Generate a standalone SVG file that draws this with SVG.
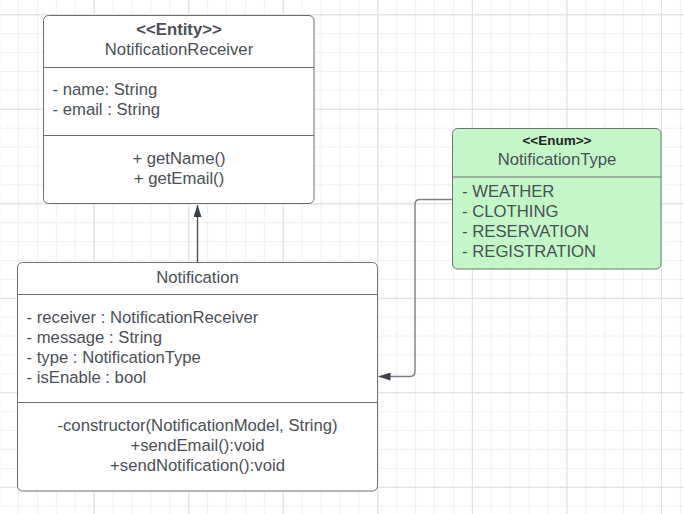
<svg xmlns="http://www.w3.org/2000/svg" width="684" height="514" viewBox="0 0 684 514">
  <defs>
    <pattern id="gridMinor" patternUnits="userSpaceOnUse" x="-0.9" y="14.3" width="18.91" height="18.9">
      <path d="M0.5 0 V18.9 M0 0.5 H18.91" fill="none" stroke="#efefef" stroke-width="1"/>
    </pattern>
    <pattern id="gridMajor" patternUnits="userSpaceOnUse" x="-0.9" y="14.3" width="94.55" height="94.5">
      <path d="M0.5 0 V94.5 M0 0.5 H94.55" fill="none" stroke="#dedede" stroke-width="1"/>
    </pattern>
    <marker id="arrowDark" viewBox="0 0 12 8" refX="12" refY="4" markerWidth="12" markerHeight="8" markerUnits="userSpaceOnUse" orient="auto">
      <path d="M0 0 L12 4 L0 8 Z" fill="#3a4048"/>
    </marker>
  </defs>
  <style>
    .box { fill: #ffffff; stroke: #6e6e6e; stroke-width: 1; }
    .enum { fill: #c3f7c8; stroke: #6e7a6f; stroke-width: 1; }
    .div { stroke: #6e6e6e; stroke-width: 1; }
    .t { font-family: "Liberation Sans", Arial, sans-serif; font-size: 16.7px; fill: #4a4f55; }
    .c { text-anchor: middle; }
    .st { font-weight: bold; }
    .edge { fill: none; stroke-width: 1.4; }
  </style>

  <rect width="684" height="514" fill="#ffffff"/>
  <rect width="684" height="514" fill="url(#gridMinor)"/>
  <rect width="684" height="514" fill="url(#gridMajor)"/>

  <g id="connectors">
    <path class="edge" d="M197.5 262.5 V205" stroke="#4a5058" marker-end="url(#arrowDark)"/>
    <path class="edge" d="M452.5 199.5 H420 Q415 199.5 415 204.5 V371 Q415 376.5 410 376.5 H378.5" stroke="#7c8189" marker-end="url(#arrowDark)"/>
  </g>

  <g id="NotificationReceiver">
    <rect class="box" x="43.5" y="15.5" width="270.5" height="188" rx="5"/>
    <line class="div" x1="43.5" y1="67.5" x2="314" y2="67.5"/>
    <line class="div" x1="43.5" y1="135.5" x2="314" y2="135.5"/>
    <text class="t c st" x="179" y="35">&lt;&lt;Entity&gt;&gt;</text>
    <text class="t c" x="179" y="55">NotificationReceiver</text>
    <text class="t" x="52.5" y="95">- name: String</text>
    <text class="t" x="52.5" y="115">- email : String</text>
    <text class="t c" x="179" y="163.5">+ getName()</text>
    <text class="t c" x="179" y="183.5">+ getEmail()</text>
  </g>

  <g id="Notification">
    <rect class="box" x="17.5" y="262.5" width="360" height="228.5" rx="5"/>
    <line class="div" x1="17.5" y1="294.5" x2="377.5" y2="294.5"/>
    <line class="div" x1="17.5" y1="402.5" x2="377.5" y2="402.5"/>
    <text class="t c" x="197.5" y="282.5">Notification</text>
    <text class="t" x="26.5" y="322.5">- receiver : NotificationReceiver</text>
    <text class="t" x="26.5" y="342.5">- message : String</text>
    <text class="t" x="26.5" y="362.5">- type : NotificationType</text>
    <text class="t" x="26.5" y="382.5">- isEnable : bool</text>
    <text class="t c" x="197.5" y="431">-constructor(NotificationModel, String)</text>
    <text class="t c" x="197.5" y="451">+sendEmail():void</text>
    <text class="t c" x="197.5" y="471">+sendNotification():void</text>
  </g>

  <g id="NotificationType">
    <rect class="enum" x="452.5" y="128.5" width="208.5" height="140.5" rx="5"/>
    <line class="div" x1="452.5" y1="177" x2="661" y2="177" stroke="#6e7a6f"/>
    <text class="t c st" x="557" y="145" style="font-size:13.5px; fill:#1e2420">&lt;&lt;Enum&gt;&gt;</text>
    <text class="t c" x="557" y="164.5">NotificationType</text>
    <text class="t" x="462" y="196.5">- WEATHER</text>
    <text class="t" x="462" y="216.5">- CLOTHING</text>
    <text class="t" x="462" y="236.5">- RESERVATION</text>
    <text class="t" x="462" y="256.5">- REGISTRATION</text>
  </g>
</svg>
